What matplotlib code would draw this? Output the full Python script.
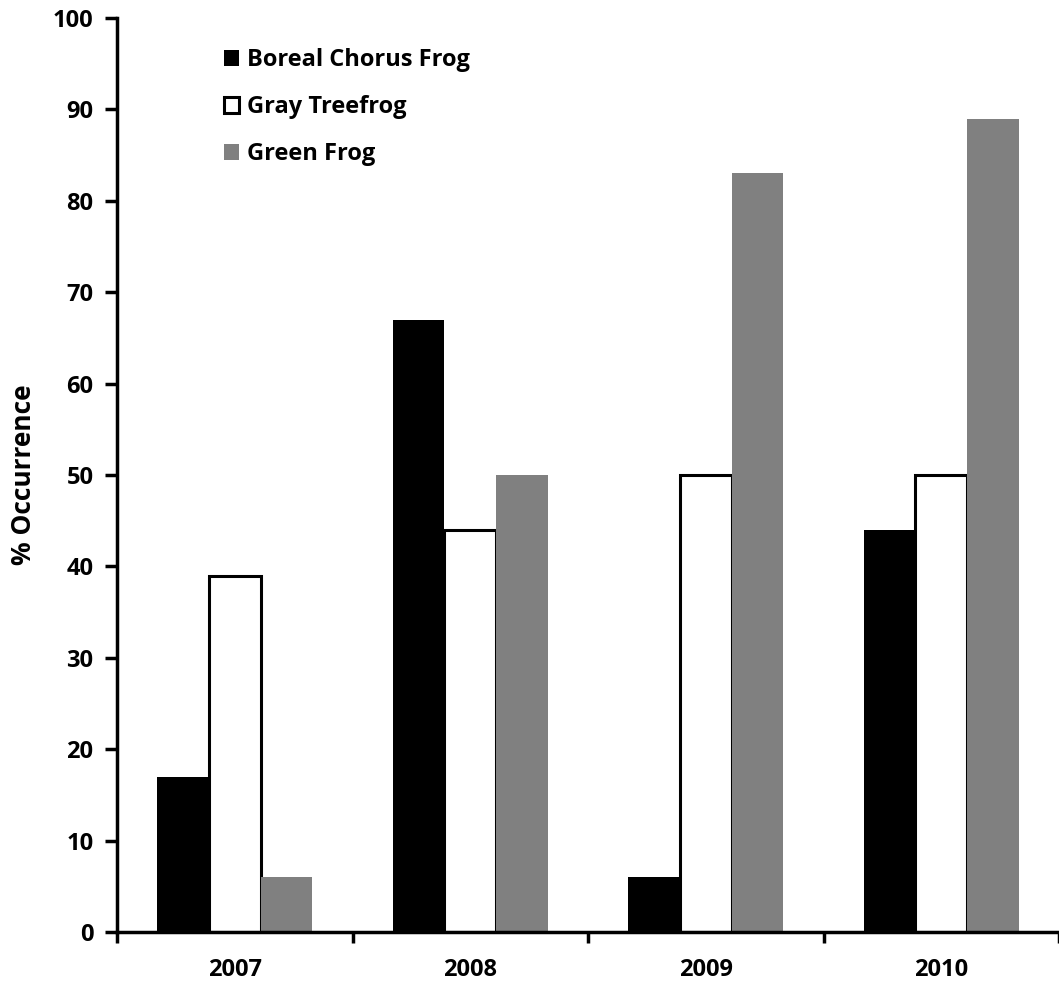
import matplotlib
matplotlib.use("Agg")
import matplotlib.pyplot as plt
import numpy as np

years = ["2007", "2008", "2009", "2010"]
species = ["Boreal Chorus Frog", "Gray Treefrog", "Green Frog"]
boreal = [17, 67, 6, 44]
gray_tree = [39, 44, 50, 50]
green = [6, 50, 83, 89]

plt.rcParams["font.family"] = ["Open Sans", "DejaVu Sans"]
plt.rcParams["font.weight"] = "bold"

fig = plt.figure(figsize=(10.59, 9.88), dpi=100)
ax = fig.add_axes([117 / 1059, 1 - 932 / 988, 1 - 117 / 1059, (932 - 18) / 988])

x = np.arange(len(years)) + 0.5
w = 0.22
ax.bar(x - w, boreal, w, color="black", label=species[0])
ax.bar(x, gray_tree, w, color="white", edgecolor="black", linewidth=2.2, label=species[1])
ax.bar(x + w, green, w, color="#808080", label=species[2])

ax.set_xlim(0, 4)
ax.set_ylim(0, 100)
ax.set_yticks(range(0, 101, 10))
ax.set_xticks(range(0, 5))
ax.set_xticklabels([])
ax.set_xticks(x, minor=True)
ax.set_xticklabels(years, minor=True)
ax.tick_params(axis="x", which="minor", length=0, pad=19, labelsize=17)
ax.tick_params(axis="x", which="major", direction="out", length=8, width=2.5)
ax.tick_params(axis="y", direction="out", length=9, width=2.5, labelsize=17, pad=8)

for side in ["top", "right"]:
    ax.spines[side].set_visible(False)
for side in ["left", "bottom"]:
    ax.spines[side].set_linewidth(2.5)

ax.set_ylabel("% Occurrence", fontsize=19, fontweight="bold", labelpad=11)

ax.legend(loc="upper left", bbox_to_anchor=(0.114, 0.967), frameon=False,
          fontsize=17, handlelength=0.62, handleheight=0.62, handletextpad=0.35,
          labelspacing=0.98, borderpad=0, borderaxespad=0)

fig.savefig("out.png", dpi=100)
